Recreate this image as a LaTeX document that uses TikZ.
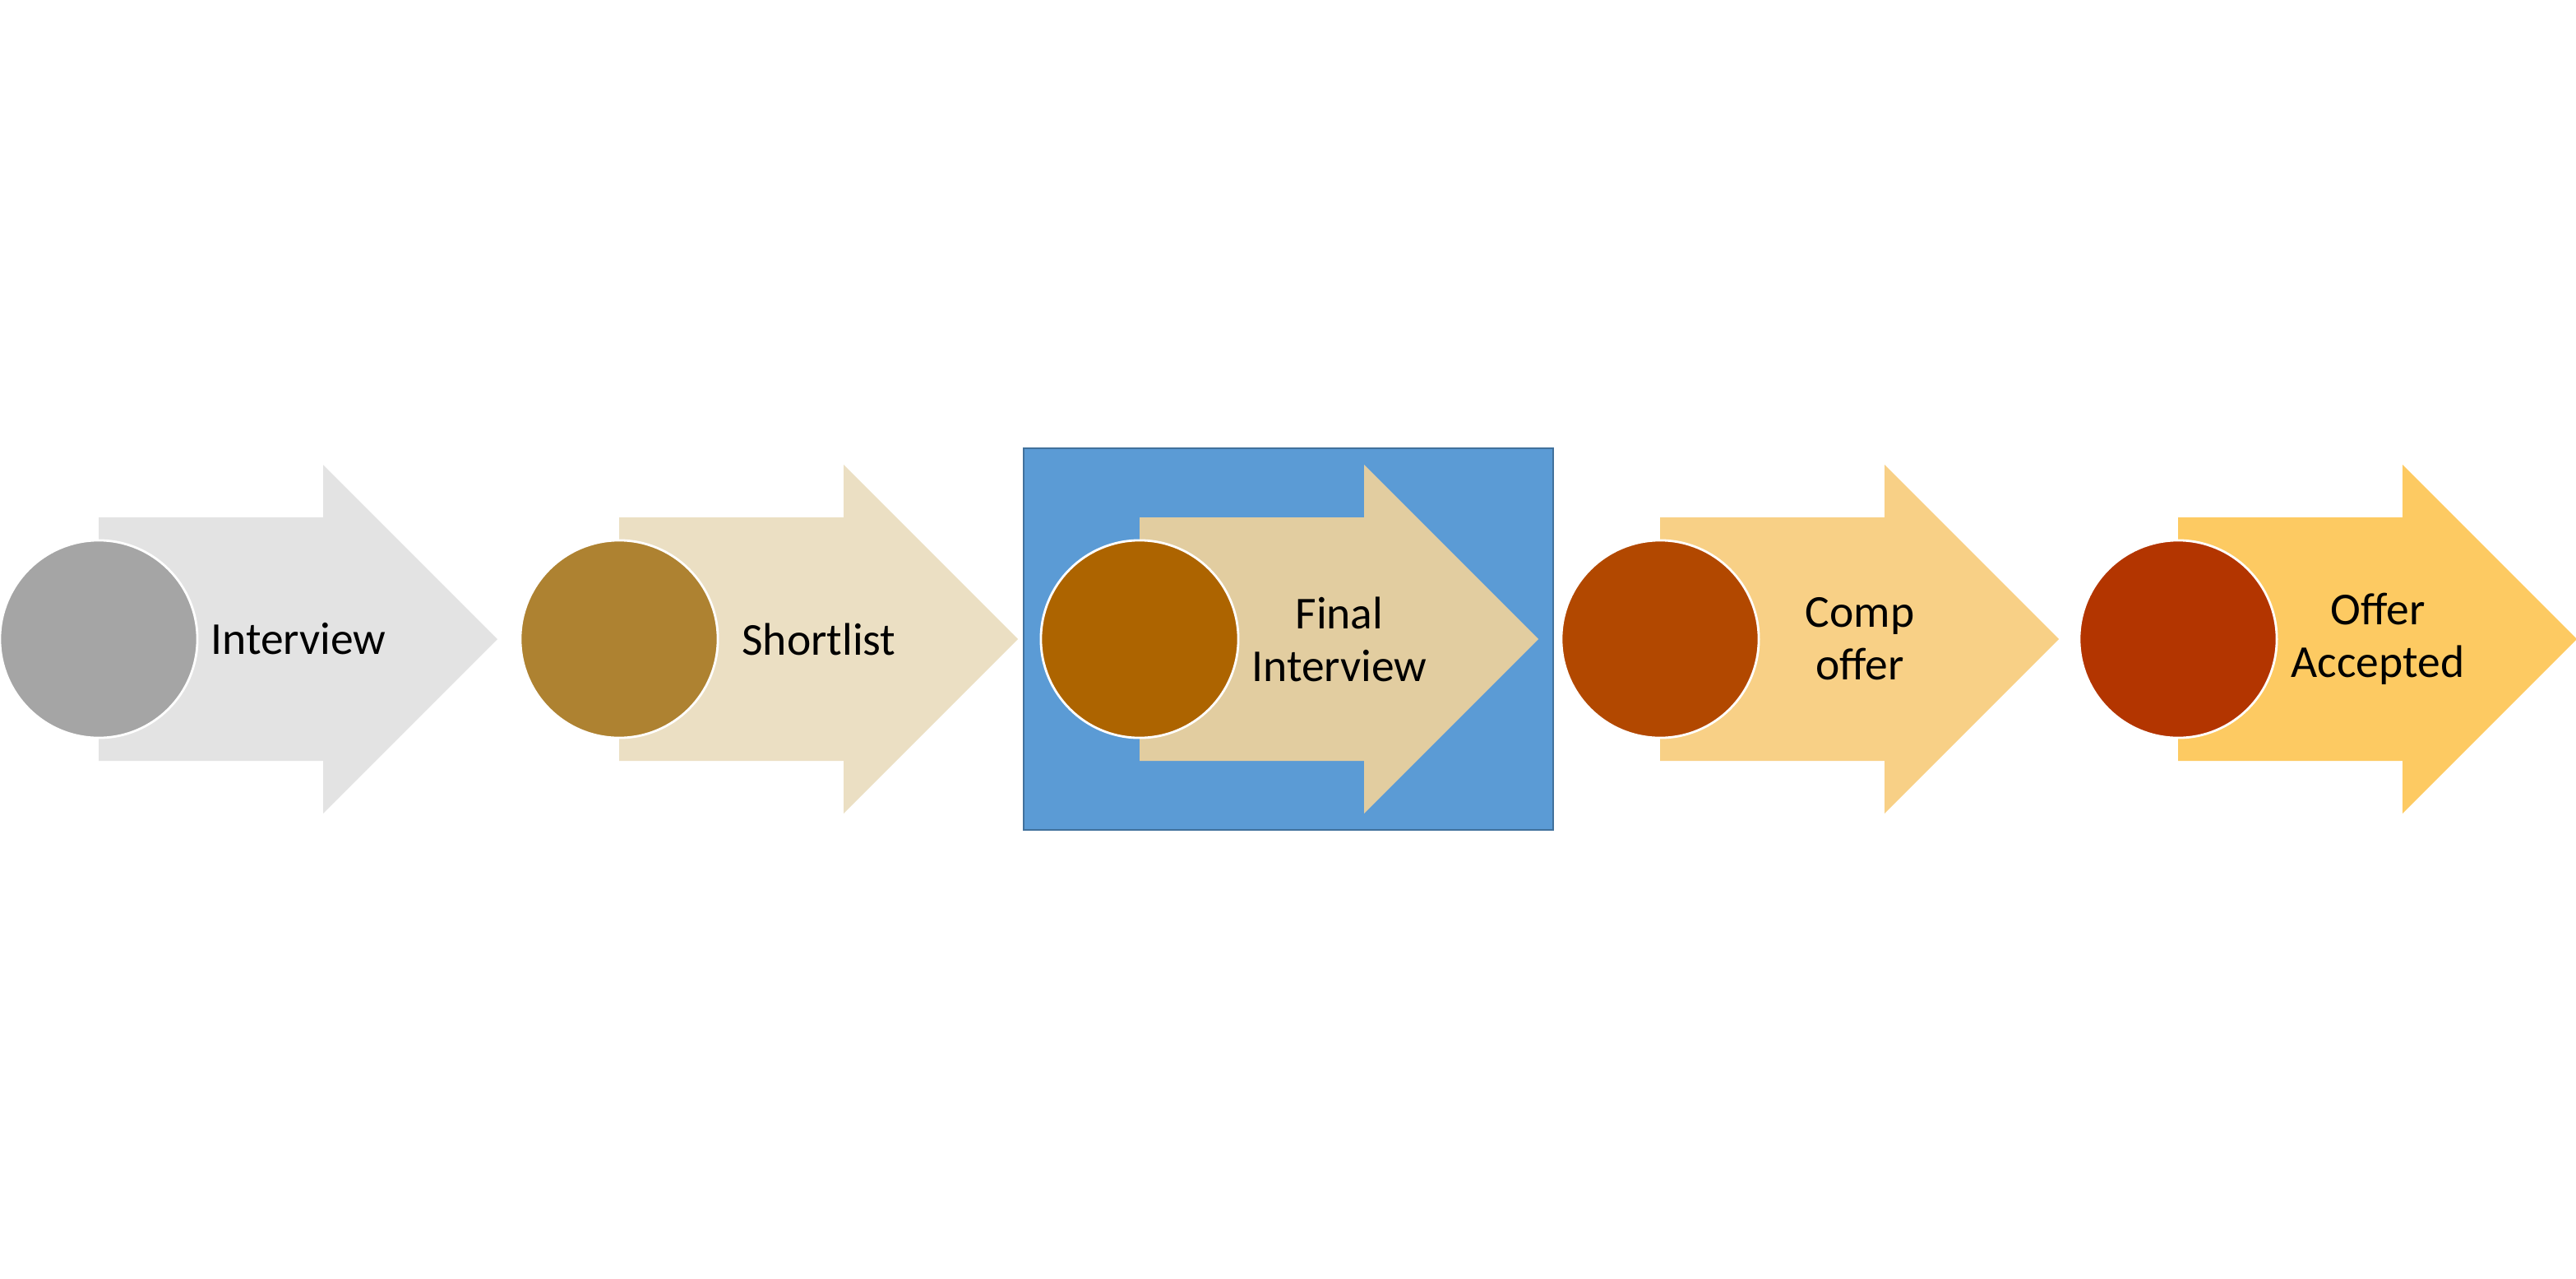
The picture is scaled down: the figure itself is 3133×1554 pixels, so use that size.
\documentclass[tikz,border=0pt]{standalone}
\usepackage{fontspec}
\setmainfont{Carlito}
\usetikzlibrary{positioning}

\definecolor{arrA}{HTML}{E3E3E3}
\definecolor{arrB}{HTML}{EBDFC3}
\definecolor{arrC}{HTML}{E2CDA0}
\definecolor{arrD}{HTML}{F8D086}
\definecolor{arrE}{HTML}{FDCA62}
\definecolor{dotA}{HTML}{A5A5A5}
\definecolor{dotB}{HTML}{AE8231}
\definecolor{dotC}{HTML}{AD6400}
\definecolor{dotD}{HTML}{B24800}
\definecolor{dotE}{HTML}{B33500}
\definecolor{boxblue}{HTML}{5B9BD5}
\definecolor{frameblue}{HTML}{41719C}

\begin{document}
\begin{tikzpicture}[x=0.01cm, y=-0.01cm, every node/.style={inner sep=0pt},
        dot/.style={circle, draw=white, line width=0.8pt, minimum size=2.4cm},
        stagetext/.style={align=center, font=\fontsize{15.8}{18.2}\selectfont}]
        \useasboundingbox (0,0) rectangle (3133,1554);

        % highlight behind the third stage
        \draw[draw=frameblue, fill=boxblue, line width=0.6pt] (1245,545) rectangle (1889,1009);

        \foreach \i/\x/\ac/\cc/\txt in {1/120/arrA/dotA/Interview, 2/753/arrB/dotB/Shortlist,
                3/1386/arrC/dotC/{Final\\Interview}, 4/2019/arrD/dotD/{Comp\\offer},
                5/2649/arrE/dotE/{Offer\\Accepted}} {
            \fill[\ac] (\x,629) -- (\x+273,629) -- (\x+273,565) -- (\x+485,777)
                -- (\x+273,989) -- (\x+273,925) -- (\x,925) -- cycle;
            \node[dot, fill=\cc] (c\i) at (\x,777) {};
            \node[stagetext] (t\i) at (\x+243,777) {\txt};
        }
    \end{tikzpicture}
\end{document}
